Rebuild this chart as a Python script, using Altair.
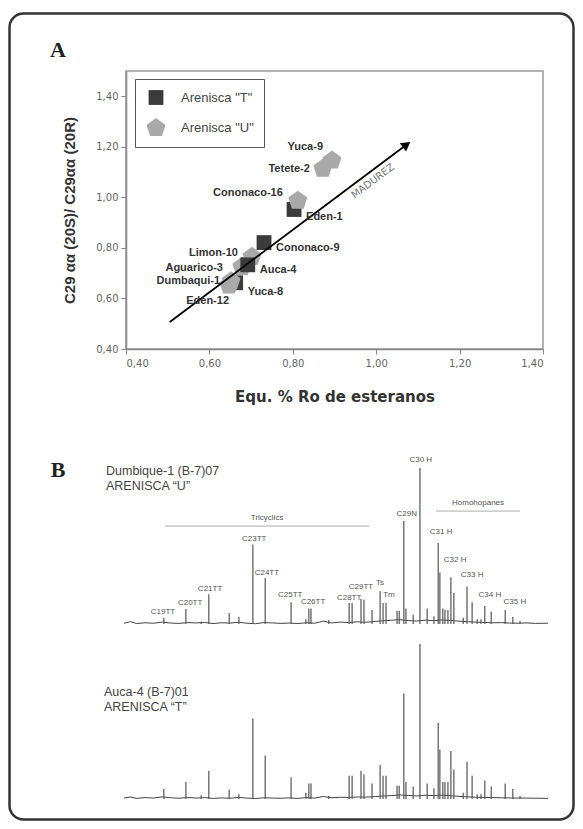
import altair as alt
import pandas as pd

# ---------------- Panel A : maturity cross-plot ----------------
samples = ["Limon-10", "Aguarico-3", "Auca-4", "Yuca-8", "Dumbaqui-1", "Eden-12",
           "Eden-1", "Cononaco-16", "Cononaco-9", "Tetete-2", "Yuca-9"]
arenisca = ["U", "U", "T", "T", "U", "U", "T", "U", "T", "U", "U"]
ro_equiv = [0.702, 0.678, 0.692, 0.663, 0.652, 0.647, 0.803, 0.812, 0.731, 0.872, 0.894]
ratio_20s_20r = [0.765, 0.725, 0.733, 0.662, 0.668, 0.652, 0.952, 0.987, 0.821, 1.114, 1.146]

arrow_x = [0.505, 1.07]
arrow_y = [0.507, 1.205]
arrow_text = "MADUREZ"

x_ticks = [0.4, 0.6, 0.8, 1.0, 1.2, 1.4]
y_ticks = [0.4, 0.6, 0.8, 1.0, 1.2, 1.4]

# ---------------- Panel B : m/z 191 chromatograms ----------------
peak_t = [9.4, 14.6, 18.2, 20.0, 24.8, 27.1, 30.4, 33.3, 39.4, 42.9, 43.6, 44.1, 48.3,
          53.1, 53.8, 55.9, 56.6, 58.5, 60.4, 61.1, 61.8, 64.4, 64.9, 66.0, 66.5, 68.2,
          69.8, 71.5, 73.1, 74.1, 74.5, 75.2, 75.7, 76.4, 77.1, 77.8, 80.0, 80.9, 82.1,
          83.3, 84.2, 85.1, 86.6, 89.9, 91.7, 93.4]
dumbique_h = [4, 9.6, 1.5, 19, 7, 4.5, 51, 29.5, 14, 3, 10, 10, 2.5,
              13.5, 13.5, 16, 15.5, 9, 21, 13.5, 13.5, 8.5, 8.5, 66, 10, 6,
              100, 10, 5, 52, 33, 10, 9, 9, 30, 20, 4, 24, 14,
              3, 3, 11.5, 8, 9, 4.5, 2]
auca_h = [6.5, 11, 2.5, 18, 6, 3, 52, 28, 14, 4, 10, 10, 2,
          15, 15, 18, 16, 10, 22, 15, 15, 8.5, 8.5, 68, 11, 8,
          100, 10, 7, 49, 32, 11, 11, 11, 31, 19, 4, 24, 15,
          3, 3, 12, 8, 10, 6.5, 2]

base_t = [0, 1.5, 3, 5, 7, 9, 11, 13, 15, 17, 19, 21, 23, 25, 27, 29, 31, 33, 35, 37,
          39, 41, 43, 45, 47, 49, 51, 53, 55, 57, 59, 61, 63, 65, 67, 69, 71, 73, 75,
          77, 79, 81, 83, 85, 87, 89, 91, 93, 95, 97, 100]
dumbique_base = [0.5, 1.5, 0.3, 0.8, 0.5, 1.2, 0.6, 0.4, 0.9, 0.7, 1.0, 0.3, 0.8, 0.6,
                 1.1, 0.5, 0.2, 0.9, 0.7, 0.4, 0.6, 0.3, 0.8, 0.5, 1.8, 0.7, 1.2, 0.9,
                 1.4, 1.1, 1.6, 2.0, 2.4, 2.8, 2.2, 1.9, 2.5, 2.1, 2.6, 2.3, 1.8, 1.5,
                 1.2, 1.0, 0.8, 0.9, 0.6, 0.5, 0.7, 0.4, 0.5]
auca_base = [0.6, 1.3, 0.4, 0.9, 0.6, 1.4, 0.8, 0.5, 1.0, 0.6, 0.9, 0.4, 0.7, 0.5,
             1.0, 0.6, 0.3, 0.8, 0.6, 0.5, 0.7, 0.4, 0.9, 0.6, 1.6, 0.8, 1.1, 1.0,
             1.3, 1.2, 1.5, 1.9, 2.2, 2.6, 2.3, 2.0, 2.4, 2.2, 2.5, 2.1, 1.7, 1.4,
             1.1, 1.0, 0.9, 0.8, 0.7, 0.6, 0.6, 0.5, 0.4]

peak_labels = ["C19TT", "C20TT", "C21TT", "C23TT", "C24TT", "C25TT", "C26TT", "C28TT",
               "C29TT", "Ts", "Tm", "C29N", "C30 H", "C31 H", "C32 H", "C33 H", "C34 H", "C35 H"]
label_t = [9.2, 15.6, 20.3, 30.7, 33.7, 39.2, 44.6, 53.1, 55.9, 60.4, 62.5, 66.7, 70.0,
           74.8, 78.1, 82.1, 86.3, 92.2]
label_v = [7.7, 13.5, 22.4, 54.5, 32.7, 18.6, 14.1, 16.7, 23.7, 26.3, 18.6, 70.5, 105,
           59, 41, 31.4, 18.6, 14.1]

group_names = ["Tricyclics", "Homohopanes"]
group_start = [9.7, 73.6]
group_end = [57.8, 93.4]
group_level = [62.8, 72.4]

T_LAB = 'Arenisca "T"'
U_LAB = 'Arenisca "U"'
PENTAGON = "M0,-1L0.951,-0.309L0.588,0.809L-0.588,0.809L-0.951,-0.309Z"

# label placement (style only): align, dx, dy
label_place = {
    "Yuca-9": ("right", -9, -13),
    "Tetete-2": ("right", -13, 0),
    "Cononaco-16": ("right", -15, -8),
    "Eden-1": ("left", 12, 8),
    "Cononaco-9": ("left", 12, 5),
    "Limon-10": ("right", -14, -4),
    "Aguarico-3": ("right", -19, 1),
    "Auca-4": ("left", 12, 5),
    "Dumbaqui-1": ("right", -11, 0),
    "Yuca-8": ("left", 12, 9),
    "Eden-12": ("right", 0, 16),
}

scatter_df = pd.DataFrame({
    "muestra": samples,
    "arenisca": [T_LAB if a == "T" else U_LAB for a in arenisca],
    "ro": ro_equiv,
    "ratio": ratio_20s_20r,
})

xs = alt.Scale(domain=[0.4, 1.4], nice=False, zero=False)
ys = alt.Scale(domain=[0.4, 1.5], nice=False, zero=False)
comma = "replace(format(datum.value, '.2f'), '.', ',')"

legend = alt.Legend(title=None, orient="none", legendX=9, legendY=8, padding=10,
                    rowPadding=12, strokeColor="#555", fillColor="white",
                    labelFont="Liberation Sans", labelFontSize=13, labelColor="#444",
                    labelOffset=14)

x_axis = alt.Axis(orient="bottom", values=x_ticks, labelExpr=comma, grid=False,
                  title="Equ. % Ro de esteranos", titleFont="DejaVu Sans",
                  titleFontSize=15, titleFontWeight="bold", titleColor="#333",
                  titlePadding=21, labelFont="DejaVu Sans", labelFontSize=10,
                  labelColor="#666", labelPadding=4, tickSize=5, tickColor="#888",
                  domainColor="#888", domainWidth=1.5)
y_axis = alt.Axis(orient="left", values=y_ticks, labelExpr=comma, grid=False,
                  title="C29 αα (20S)/ C29αα (20R)", titleFont="Liberation Sans",
                  titleFontSize=15, titleFontWeight="bold", titleColor="#333",
                  titlePadding=18, labelFont="DejaVu Sans", labelFontSize=10,
                  labelColor="#666", labelPadding=3, tickSize=5, tickColor="#888",
                  domainColor="#888", domainWidth=1.5)

points = alt.Chart(scatter_df).mark_point(filled=True, opacity=1).encode(
    x=alt.X("ro:Q", scale=xs, axis=x_axis),
    y=alt.Y("ratio:Q", scale=ys, axis=y_axis),
    shape=alt.Shape("arenisca:N", scale=alt.Scale(domain=[T_LAB, U_LAB], range=["square", PENTAGON]), legend=legend),
    color=alt.Color("arenisca:N", scale=alt.Scale(domain=[T_LAB, U_LAB], range=["#3b3b3b", "#a9a9a9"]), legend=legend),
    size=alt.Size("arenisca:N", scale=alt.Scale(domain=[T_LAB, U_LAB], range=[220, 400]), legend=legend),
)

label_layers = []
for name, (al, dx, dy) in label_place.items():
    sub = scatter_df[scatter_df["muestra"] == name]
    label_layers.append(
        alt.Chart(sub).mark_text(align=al, baseline="middle", dx=dx, dy=dy,
                                 font="Liberation Sans", fontSize=11, fontWeight="bold",
                                 color="#333").encode(
            x=alt.X("ro:Q", scale=xs), y=alt.Y("ratio:Q", scale=ys), text="muestra:N")
    )

arrow_df = pd.DataFrame({"x": arrow_x, "y": arrow_y})
arrow_line = alt.Chart(arrow_df).mark_line(color="black", strokeWidth=1.8).encode(
    x=alt.X("x:Q", scale=xs), y=alt.Y("y:Q", scale=ys))
arrow_head = alt.Chart(arrow_df.tail(1)).mark_point(
    shape="triangle", filled=True, color="black", opacity=1, size=110, angle=53).encode(
    x=alt.X("x:Q", scale=xs), y=alt.Y("y:Q", scale=ys))
arrow_lab = alt.Chart(pd.DataFrame({"x": [0.992], "y": [1.064], "t": [arrow_text]})).mark_text(
    angle=323, font="DejaVu Sans", fontSize=10, color="#777", align="center",
    baseline="middle").encode(x=alt.X("x:Q", scale=xs), y=alt.Y("y:Q", scale=ys), text="t:N")

scatter = alt.layer(points, arrow_line, arrow_head, arrow_lab, *label_layers)

# ---------------- chromatograms ----------------
cx = alt.Scale(domain=[0, 100], range=[-2, 422], nice=False, zero=False)


def chromatogram(heights, base, yrange, with_labels):
    ysc = alt.Scale(domain=[0, 100], range=yrange, nice=False, zero=False)
    pk = pd.DataFrame({"t": peak_t, "h": heights, "b": [0] * len(peak_t)})
    bl = pd.DataFrame({"t": base_t, "v": base})
    layers = [
        alt.Chart(bl).mark_line(color="#444", strokeWidth=1).encode(
            x=alt.X("t:Q", scale=cx, axis=None), y=alt.Y("v:Q", scale=ysc, axis=None)),
        alt.Chart(pk).mark_rule(color="#555", strokeWidth=1.2).encode(
            x=alt.X("t:Q", scale=cx, axis=None), y=alt.Y("b:Q", scale=ysc, axis=None),
            y2="h:Q"),
    ]
    if with_labels:
        lb = pd.DataFrame({"lab": peak_labels, "t": label_t, "v": label_v})
        gp = pd.DataFrame({"g": group_names, "s": group_start, "e": group_end,
                           "lv": group_level})
        layers += [
            alt.Chart(lb).mark_text(font="Liberation Sans", fontSize=8, color="#555",
                                    align="center", baseline="middle").encode(
                x=alt.X("t:Q", scale=cx, axis=None), y=alt.Y("v:Q", scale=ysc, axis=None),
                text="lab:N"),
            alt.Chart(gp).mark_rule(color="#aaa", strokeWidth=1).encode(
                x=alt.X("s:Q", scale=cx, axis=None), x2="e:Q",
                y=alt.Y("lv:Q", scale=ysc, axis=None)),
            alt.Chart(gp).transform_calculate(m="(datum.s + datum.e) / 2").mark_text(
                font="Liberation Sans", fontSize=8, color="#555", align="center",
                baseline="middle", dy=-8).encode(
                x=alt.X("m:Q", scale=cx, axis=None), y=alt.Y("lv:Q", scale=ysc, axis=None),
                text="g:N"),
        ]
    return alt.layer(*layers)


top_chrom = chromatogram(dumbique_h, dumbique_base, [553, 397], True)
bot_chrom = chromatogram(auca_h, auca_base, [728, 573], False)

# ---------------- decorations ----------------
one = pd.DataFrame({"k": [0]})
border = alt.Chart(one).mark_rect(fillOpacity=0, stroke="#333", strokeWidth=2.5,
                                  cornerRadius=14).encode(
    x=alt.value(-116.5), x2=alt.value(447.5), y=alt.value(-57.5), y2=alt.value(748.5))
letter_a = alt.Chart(one).mark_text(text="A", font="Liberation Serif", fontSize=22,
                                    fontWeight="bold", color="#222").encode(
    x=alt.value(-68), y=alt.value(-21))
letter_b = alt.Chart(one).mark_text(text="B", font="Liberation Serif", fontSize=22,
                                    fontWeight="bold", color="#222").encode(
    x=alt.value(-68), y=alt.value(399))
sample_top = alt.Chart(one).mark_text(text="Dumbique-1 (B-7)07\nARENISCA “U”", lineBreak="\n",
                                      lineHeight=15, font="Liberation Sans", fontSize=12.5,
                                      color="#444", align="left", baseline="middle").encode(
    x=alt.value(-20), y=alt.value(400))
sample_bot = alt.Chart(one).mark_text(text="Auca-4 (B-7)01\nARENISCA “T”", lineBreak="\n",
                                      lineHeight=15, font="Liberation Sans", fontSize=12.5,
                                      color="#444", align="left", baseline="middle").encode(
    x=alt.value(-22), y=alt.value(621))

chart = alt.layer(
    border, scatter, top_chrom, bot_chrom, letter_a, letter_b, sample_top, sample_bot
).resolve_scale(x="independent", y="independent").properties(
    width=417, height=278,
    autosize=alt.AutoSizeParams(type="none"),
    padding={"left": 118, "top": 63, "right": 32, "bottom": 472},
    background="white",
).configure_view(stroke="#999", strokeWidth=1.5)

chart.save("out.html", embed_options={"renderer": "svg", "actions": False})
